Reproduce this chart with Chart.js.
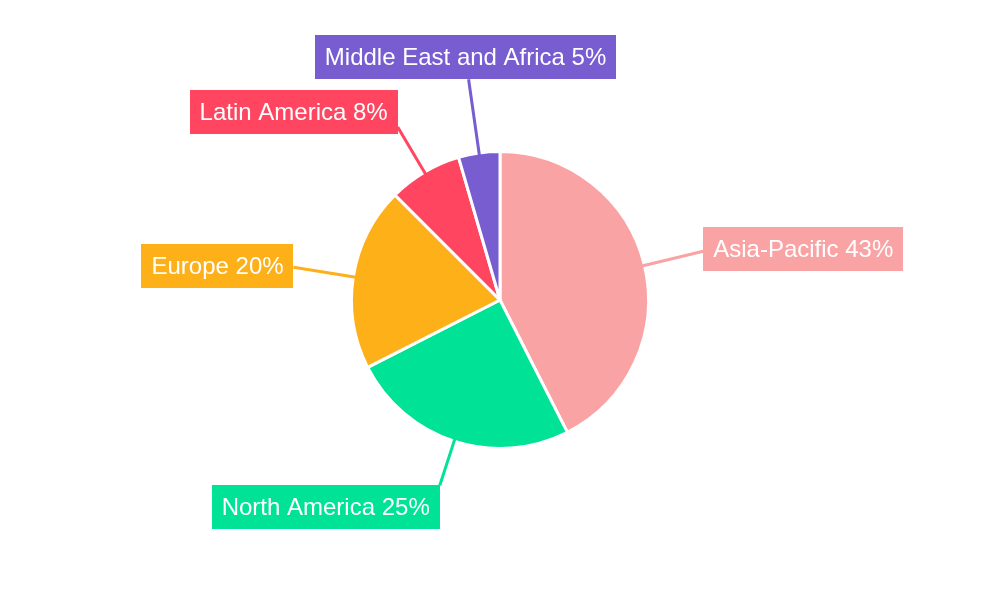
<!DOCTYPE html>
<html>
<head>
<meta charset="utf-8">
<script src="https://cdn.jsdelivr.net/npm/chart.js@4"></script>
<style>
  html, body { margin: 0; padding: 0; background: #ffffff; }
  #wrap { width: 1000px; height: 600px; position: relative; }
</style>
</head>
<body>
<div id="wrap"><canvas id="c" width="1000" height="600"></canvas></div>
<script>
const regions = ['Asia-Pacific', 'North America', 'Europe', 'Latin America', 'Middle East and Africa'];
const shares = [42.5, 25, 20, 8, 4.5];
const sliceColors = ['#F9A3A4', '#00E396', '#FEB019', '#FF4560', '#775DD0'];

// label layout: leader length beyond pie edge, box alignment relative to leader end
const labelLayout = [
  { len: 63, ax: 1, ay: -0.09 },
  { len: 49, ax: -1, ay: 1 },
  { len: 63, ax: -1, ay: -0.04 },
  { len: 55, ax: -1, ay: -0.66 },
  { len: 77, ax: -0.02, ay: -1 }
];

const outsideLabels = {
  id: 'outsideLabels',
  afterDatasetsDraw(chart, args, opts) {
    const ctx = chart.ctx;
    const meta = chart.getDatasetMeta(0);
    const data = chart.data.datasets[0].data;
    const total = data.reduce((a, b) => a + b, 0);
    ctx.save();
    ctx.font = opts.font;
    meta.data.forEach((arc, i) => {
      const p = arc.getProps(['x', 'y', 'startAngle', 'endAngle', 'outerRadius'], true);
      const mid = (p.startAngle + p.endAngle) / 2;
      const r0 = opts.edgeRadius;
      const r1 = r0 + labelLayout[i].len;
      const sx = p.x + Math.cos(mid) * r0, sy = p.y + Math.sin(mid) * r0;
      const ex = p.x + Math.cos(mid) * r1, ey = p.y + Math.sin(mid) * r1;
      const color = sliceColors[i];
      ctx.strokeStyle = color;
      ctx.lineWidth = 3;
      ctx.beginPath();
      ctx.moveTo(sx, sy);
      ctx.lineTo(ex, ey);
      ctx.stroke();
      const txt = chart.data.labels[i] + ' ' + Math.round(data[i] / total * 100) + '%';
      const tw = ctx.measureText(txt).width;
      const w = tw + 2 * opts.padX, h = opts.boxH;
      const cx = ex + labelLayout[i].ax * w / 2;
      const cy = ey + labelLayout[i].ay * h / 2;
      ctx.fillStyle = color;
      ctx.fillRect(Math.round(cx - w / 2), Math.round(cy - h / 2), Math.round(w), h);
      ctx.fillStyle = '#ffffff';
      ctx.textAlign = 'center';
      ctx.textBaseline = 'middle';
      ctx.fillText(txt, cx, cy + 1);
    });
    ctx.restore();
  }
};

new Chart(document.getElementById('c'), {
  type: 'pie',
  data: {
    labels: regions,
    datasets: [{
      data: shares,
      backgroundColor: sliceColors,
      borderColor: '#ffffff',
      borderWidth: 3,
      hoverOffset: 0
    }]
  },
  options: {
    responsive: false,
    animation: false,
    radius: 148.5,
    layout: { padding: 0 },
    plugins: {
      legend: { display: false },
      tooltip: { enabled: false },
      outsideLabels: {
        font: '24px "Liberation Sans", Arial, sans-serif',
        padX: 10,
        boxH: 44,
        edgeRadius: 146
      }
    }
  },
  plugins: [outsideLabels]
});
</script>
</body>
</html>
